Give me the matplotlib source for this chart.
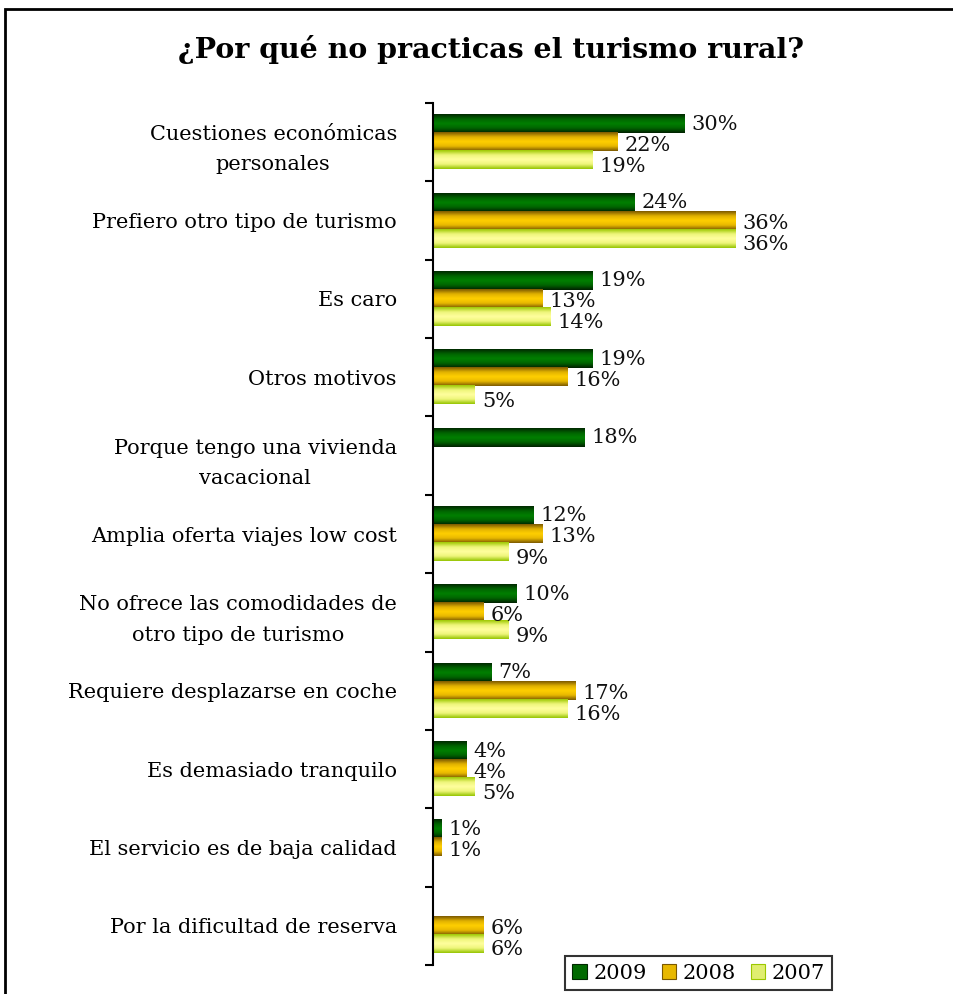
import numpy as np
import matplotlib
matplotlib.use("Agg")
import matplotlib.pyplot as plt
from matplotlib.patches import Rectangle
from matplotlib.colors import LinearSegmentedColormap

categories = [
    "Cuestiones económicas\npersonales",
    "Prefiero otro tipo de turismo",
    "Es caro",
    "Otros motivos",
    "Porque tengo una vivienda\nvacacional",
    "Amplia oferta viajes low cost",
    "No ofrece las comodidades de\notro tipo de turismo",
    "Requiere desplazarse en coche",
    "Es demasiado tranquilo",
    "El servicio es de baja calidad",
    "Por la dificultad de reserva",
]
v2009 = [30, 24, 19, 19, 18, 12, 10, 7, 4, 1, np.nan]
v2008 = [22, 36, 13, 16, np.nan, 13, 6, 17, 4, 1, 6]
v2007 = [19, 36, 14, 5, np.nan, 9, 9, 16, 5, np.nan, 6]
series_names = ["2009", "2008", "2007"]

W, H = 954, 994
fig = plt.figure(figsize=(W / 100, H / 100), dpi=100)
plt.rcParams['font.family'] = ['DejaVu Serif']

# outer frame
fig.patches.append(Rectangle((5.5 / W, -0.1), 1.2, 1 - 9 / H + 0.1, transform=fig.transFigure,
                             fill=False, edgecolor='black', linewidth=2.0, zorder=0))

fig.text(491 / W, 1 - 50 / H, "¿Por qué no practicas el turismo rural?", ha='center', va='center',
         fontsize=20.5, fontweight='bold', family='DejaVu Serif')

left, right = 433, 433 + 40 * 8.39
top, bottom = 103, 965
ax = fig.add_axes([left / W, 1 - bottom / H, (right - left) / W, (bottom - top) / H])

n = len(categories)

grads = {
    "2009": ["#002800", "#006400", "#008000", "#006400", "#002000"],
    "2008": ["#7a5800", "#e0b000", "#ffd000", "#e8b800", "#7a5800"],
    "2007": ["#9cc800", "#eef57a", "#ffff9e", "#eef57a", "#94c400"],
}
mids = {"2009": "#006a00", "2008": "#e8b800", "2007": "#e0ee70"}

bh = 0.23
offsets = [-bh, 0, bh]
lab_dy = [0, 3, 6]
data = [v2009, v2008, v2007]
for si, (name, vals) in enumerate(zip(series_names, data)):
    cmap = LinearSegmentedColormap.from_list(name, grads[name])
    grad = np.linspace(0, 1, 64).reshape(-1, 1)
    ys = np.arange(n) + offsets[si]
    vals_arr = np.array(vals, dtype=float)
    mask = ~np.isnan(vals_arr)
    bars = ax.barh(ys[mask], vals_arr[mask], height=bh, color='none', edgecolor='none')
    for b, v in zip(bars, vals_arr[mask]):
        x0, y0, w, h = b.get_x(), b.get_y(), b.get_width(), b.get_height()
        ax.imshow(grad, cmap=cmap, aspect='auto', extent=(x0, x0 + w, y0 + h, y0),
                  interpolation='bicubic', zorder=2)
        ax.annotate(f"{v:.0f}%", xy=(x0 + w, y0 + h / 2), xytext=(5, -lab_dy[si] * 0.72),
                    textcoords='offset points', ha='left', va='center', fontsize=15,
                    color='#111111')

ax.set_xlim(0, 40)
ax.set_ylim(n - 0.5, -0.5)

for s in ['top', 'right', 'bottom']:
    ax.spines[s].set_visible(False)
ax.spines['left'].set_linewidth(1.5)
ax.set_xticks([])
ax.set_yticks(np.arange(n))
ax.set_yticklabels(categories, fontsize=15, multialignment='center', linespacing=1.75)
ax.tick_params(axis='y', which='major', length=0, pad=26)
ax.set_yticks(np.arange(n + 1) - 0.5, minor=True)
ax.tick_params(axis='y', which='minor', length=6, width=1.5, direction='out')

handles = [Rectangle((0, 0), 1, 1, facecolor=mids[nm], edgecolor=grads[nm][0], linewidth=0.8)
           for nm in series_names]
leg = fig.legend(handles, series_names, loc='lower left',
                 bbox_to_anchor=(565 / W, 1 - 990 / H, (832 - 565) / W, 45 / H),
                 ncol=3, fontsize=15, frameon=True, fancybox=False, handlelength=0.7,
                 handleheight=0.7, handletextpad=0.3, columnspacing=0.6, borderpad=0.35,
                 borderaxespad=0, mode='expand')
leg.get_frame().set_edgecolor('black')
leg.get_frame().set_linewidth(1.5)

fig.savefig("out.png", dpi=100)
